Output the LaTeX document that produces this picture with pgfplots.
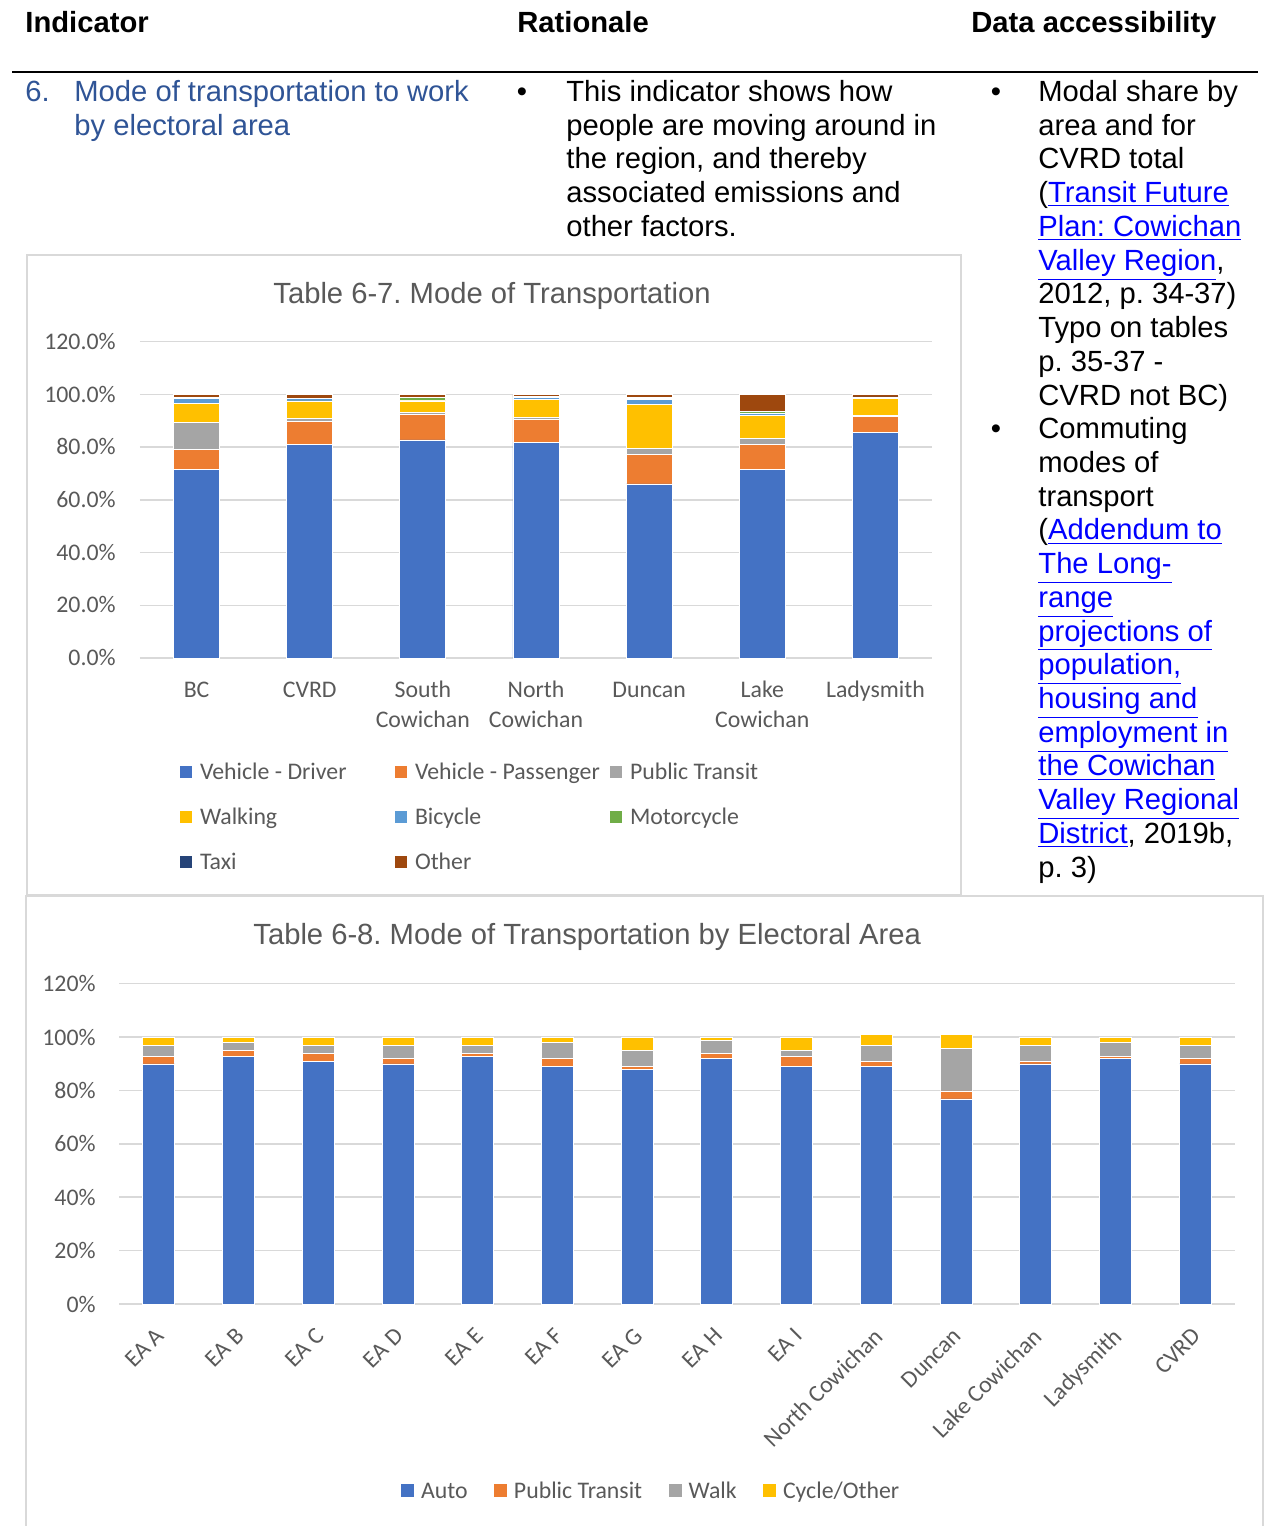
\documentclass[border=0pt]{standalone}
\usepackage{pgfplots}
\pgfplotsset{compat=1.18}
\usepackage{pgfplotstable}
\usepackage{fontspec}
\setmainfont{Liberation Sans}
\newfontfamily\carlito{Carlito}
\definecolor{cBlue}{HTML}{4472C4}
\definecolor{cOrange}{HTML}{ED7D31}
\definecolor{cGray}{HTML}{A5A5A5}
\definecolor{cYellow}{HTML}{FFC000}
\definecolor{cLBlue}{HTML}{5B9BD5}
\definecolor{cGreen}{HTML}{70AD47}
\definecolor{cNavy}{HTML}{264478}
\definecolor{cBrown}{HTML}{9E480E}
\definecolor{cGrid}{HTML}{D9D9D9}
\definecolor{cText}{HTML}{595959}
\definecolor{cHead}{HTML}{2F5496}
\definecolor{cLink}{HTML}{0000FF}

\pgfplotstableread{
cat drv  pas  pt   walk bike moto taxi oth
0   71.5 7.6  10.4 7.0  1.9  0.2  0.2  1.0
1   80.9 8.7  1.2  6.7  0.8  0.2  0.1  1.4
2   82.7 9.6  0.9  4.3  0.3  0.9  0.1  1.0
3   81.8 8.6  0.7  6.9  0.8  0.3  0.1  0.6
4   66.0 11.3 2.1  16.9 1.6  0.5  0.3  1.3
5   71.4 9.5  2.3  8.7  0.9  0.6  0.1  6.5
6   85.6 6.0  0.4  6.4  0.4  0.1  0.1  0.9
}\tabA

\pgfplotstableread{
cat auto pt  walk cyc
0   89.9 2.8 4.1  3.2
1   92.7 2.2 3.0  2.1
2   90.9 2.9 3.0  3.2
3   89.9 2.1 4.9  3.1
4   92.8 1.0 3.1  3.1
5   89.0 3.0 5.9  2.1
6   87.9 1.1 5.9  5.1
7   92.0 1.8 5.0  1.2
8   89.0 3.7 2.2  5.1
9   89.0 1.9 6.0  4.0
10  76.8 3.0 16.0 5.1
11  89.9 1.0 6.0  3.1
12  92.0 0.8 5.1  2.1
13  89.9 2.1 4.9  3.1
}\tabB

\frenchspacing
\newcommand\body{\fontsize{14.6}{17}\selectfont}
\newcommand\chfont{\carlito\fontsize{11.9}{15}\selectfont}
\newcommand\TL[3]{\node[anchor=base west,inner sep=0pt] at (#1,#2) {\body #3};}
\newcommand\LK[1]{\textcolor{cLink}{\underline{#1}}}

\begin{document}
\begin{tikzpicture}
\begin{scope}[x=0.5pt,y=-0.5pt]
\useasboundingbox (0,0) rectangle (1264,1526);
\fill[white] (0,0) rectangle (1264,1526);

% header
\node[anchor=base west,inner sep=0pt] at (25,32) {\body\bfseries Indicator};
\node[anchor=base west,inner sep=0pt] at (517,32) {\body\bfseries Rationale};
\node[anchor=base west,inner sep=0pt] at (971,32) {\body\bfseries Data accessibility};
\draw[black,line width=1.2pt] (12,72) -- (1258,72);

% left column
\TL{25}{101.5}{\textcolor{cHead}{6.}}
\TL{74}{101.5}{\textcolor{cHead}{Mode of transportation to work}}
\TL{74}{135.2}{\textcolor{cHead}{by electoral area}}

% middle column
\node[anchor=base,inner sep=0pt] at (522,101.5) {\body\textbullet};
\TL{566}{101.5}{This indicator shows how}
\TL{566}{135.2}{people are moving around in}
\TL{566}{168.9}{the region, and thereby}
\TL{566}{202.7}{associated emissions and}
\TL{566}{236.4}{other factors.}

% right column
\node[anchor=base,inner sep=0pt] at (996,101.5) {\body\textbullet};
\node[anchor=base,inner sep=0pt] at (996,438.7) {\body\textbullet};
\TL{1038}{101.5}{Modal share by}
\TL{1038}{135.2}{area and for}
\TL{1038}{168.9}{CVRD total}
\TL{1038}{202.7}{(\LK{Transit Future}}
\TL{1038}{236.4}{\LK{Plan: Cowichan}}
\TL{1038}{270.1}{\LK{Valley Region},}
\TL{1038}{303.8}{2012, p. 34-37)}
\TL{1038}{337.5}{Typo on tables}
\TL{1038}{371.3}{p. 35-37 -}
\TL{1038}{405.0}{CVRD not BC)}
\TL{1038}{438.7}{Commuting}
\TL{1038}{472.4}{modes of}
\TL{1038}{506.1}{transport}
\TL{1038}{539.9}{(\LK{Addendum to}}
\TL{1038}{573.6}{\LK{The Long-}}
\TL{1038}{607.3}{\LK{range}}
\TL{1038}{641.0}{\LK{projections of}}
\TL{1038}{674.7}{\LK{population,}}
\TL{1038}{708.5}{\LK{housing and}}
\TL{1038}{742.2}{\LK{employment in}}
\TL{1038}{775.9}{\LK{the Cowichan}}
\TL{1038}{809.6}{\LK{Valley Regional}}
\TL{1038}{843.3}{\LK{District}, 2019b,}
\TL{1038}{877.1}{p. 3)}

% chart frames
\draw[cGrid,line width=1pt] (27,255) rectangle (961,895);
\draw[cGrid,line width=1pt] (26,1540) -- (26,896) -- (1263,896) -- (1263,1540);

% chart titles
\node[anchor=base west,inner sep=0pt,text=cText] at (273,303) {\body Table 6-7. Mode of Transportation};
\node[anchor=base west,inner sep=0pt,text=cText] at (253,944) {\body Table 6-8. Mode of Transportation by Electoral Area};
\end{scope}

% chart 1
\begin{axis}[
  at={(70pt,-329pt)}, anchor=south west,
  scale only axis, width=396pt, height=158.2pt,
  ybar stacked, bar width=23pt,
  xmin=-0.5, xmax=6.5, ymin=0, ymax=120,
  ytick={0,20,...,120},
  yticklabels={0.0\%,20.0\%,40.0\%,60.0\%,80.0\%,100.0\%,120.0\%},
  xtick={0,...,6},
  xticklabels={BC,CVRD,South\\Cowichan,North\\Cowichan,Duncan,Lake\\Cowichan,Ladysmith},
  ymajorgrids, major grid style={draw=cGrid,line width=0.75pt},
  axis line style={draw=none}, major tick length=0pt,
  tick label style={font=\chfont, text=cText},
  typeset ticklabels with strut,
  xticklabel style={align=center, anchor=north, inner sep=0pt, yshift=-9.25pt},
  yticklabel style={anchor=east, inner sep=0pt, xshift=-12pt, yshift=-0.85pt},
  every axis plot/.append style={draw=white, line width=0.4pt,
    legend image code/.code={\fill[##1,draw=none] (0pt,-3pt) rectangle (6pt,3pt);}},
  legend columns=3, legend cell align=left,
  legend style={at={(0.0505,-0.3364)}, anchor=north west, draw=none, fill=none,
    inner sep=0pt, outer sep=0pt, font=\chfont, text=cText,
    nodes={inner sep=0pt, text height=7.7pt, text depth=0pt},
    row sep=14.8pt,
    /tikz/every odd column/.append style={column sep=4pt}},
]
\addplot[fill=cBlue] table[x=cat,y=drv]{\tabA};
\addlegendentry{\makebox[97.5pt][l]{Vehicle - Driver}}
\addplot[fill=cOrange] table[x=cat,y=pas]{\tabA};
\addlegendentry{\makebox[97.5pt][l]{Vehicle - Passenger}}
\addplot[fill=cGray] table[x=cat,y=pt]{\tabA};
\addlegendentry{\makebox[97.5pt][l]{Public Transit}}
\addplot[fill=cYellow] table[x=cat,y=walk]{\tabA};
\addlegendentry{\makebox[97.5pt][l]{Walking}}
\addplot[fill=cLBlue] table[x=cat,y=bike]{\tabA};
\addlegendentry{\makebox[97.5pt][l]{Bicycle}}
\addplot[fill=cGreen] table[x=cat,y=moto]{\tabA};
\addlegendentry{\makebox[97.5pt][l]{Motorcycle}}
\addplot[fill=cNavy] table[x=cat,y=taxi]{\tabA};
\addlegendentry{\makebox[97.5pt][l]{Taxi}}
\addplot[fill=cBrown] table[x=cat,y=oth]{\tabA};
\addlegendentry{\makebox[97.5pt][l]{Other}}
\end{axis}

% chart 2
\begin{axis}[
  at={(59.5pt,-652pt)}, anchor=south west,
  scale only axis, width=558pt, height=160.2pt,
  ybar stacked, bar width=16pt,
  xmin=-0.5, xmax=13.5, ymin=0, ymax=120,
  ytick={0,20,...,120},
  yticklabels={0\%,20\%,40\%,60\%,80\%,100\%,120\%},
  xtick={0,...,13},
  xticklabels={EA A,EA B,EA C,EA D,EA E,EA F,EA G,EA H,EA I,North Cowichan,Duncan,Lake Cowichan,Ladysmith,CVRD},
  ymajorgrids, major grid style={draw=cGrid,line width=0.75pt},
  axis line style={draw=none}, major tick length=0pt,
  tick label style={font=\chfont, text=cText},
  xticklabel style={xshift=-2pt, yshift=-11pt, rotate=45, anchor=north east, inner sep=0pt},
  yticklabel style={anchor=east, inner sep=0pt, xshift=-11.5pt},
  every axis plot/.append style={draw=white, line width=0.4pt,
    legend image code/.code={\fill[##1,draw=none] (0pt,-3pt) rectangle (6.5pt,3.5pt);}},
  legend columns=4, legend cell align=left,
  legend style={at={(0.2527,-0.5586)}, anchor=north west, draw=none, fill=none,
    inner sep=0pt, outer sep=0pt, font=\chfont, text=cText,
    nodes={inner sep=0pt, text height=7.7pt, text depth=0pt},
    /tikz/every odd column/.append style={column sep=3.5pt},
    /tikz/every even column/.append style={column sep=13.2pt}},
]
\addplot[fill=cBlue] table[x=cat,y=auto]{\tabB};
\addlegendentry{Auto}
\addplot[fill=cOrange] table[x=cat,y=pt]{\tabB};
\addlegendentry{Public Transit}
\addplot[fill=cGray] table[x=cat,y=walk]{\tabB};
\addlegendentry{Walk}
\addplot[fill=cYellow] table[x=cat,y=cyc]{\tabB};
\addlegendentry{Cycle/Other}
\end{axis}
\end{tikzpicture}
\end{document}
